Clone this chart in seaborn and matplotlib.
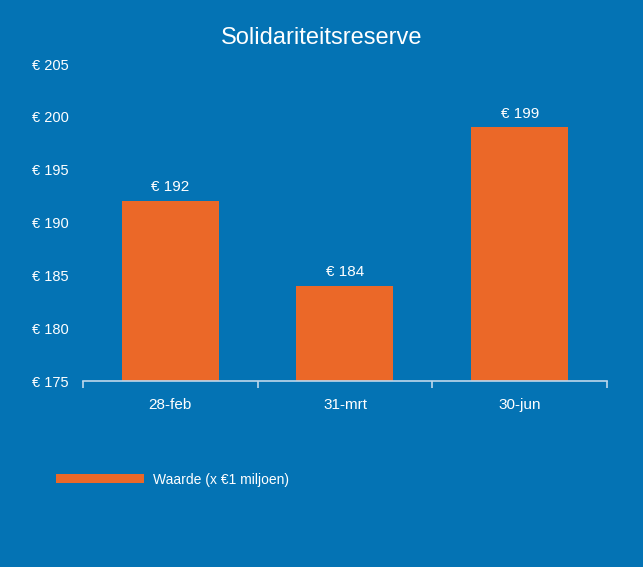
import matplotlib
matplotlib.use("Agg")
import matplotlib.pyplot as plt
import seaborn as sns
import pandas as pd
from matplotlib.patches import Patch
from matplotlib.ticker import FuncFormatter, FixedLocator

categories = ["28-feb", "31-mrt", "30-jun"]
values = [192, 184, 199]
series_name = "Waarde (x €1 miljoen)"
title = "Solidariteitsreserve"

BG = "#0473B4"
BAR = "#EB6828"
AX = "#BDD7EC"

sns.set_theme(style="white")
plt.rcParams['font.family'] = ['Liberation Sans', 'DejaVu Sans']

df = pd.DataFrame({"cat": categories, "val": values})

fig = plt.figure(figsize=(6.43, 5.67), dpi=100, facecolor=BG)
ax = fig.add_axes([0.129, 0.328, 0.815, 0.559])
ax.set_facecolor(BG)

sns.barplot(data=df, x="cat", y="val", color=BAR, width=0.555, saturation=1,
            linewidth=0, edgecolor="none", ax=ax)
ax.set_ylim(175, 205)
ax.set_xlim(-0.5, len(categories) - 0.5)
ax.set_yticks(range(175, 206, 5))
ax.yaxis.set_major_formatter(FuncFormatter(lambda v, p: f"€ {int(v)}"))
ax.set_xlabel("")
ax.set_ylabel("")

for s in ["top", "right", "left"]:
    ax.spines[s].set_visible(False)
ax.spines["bottom"].set_color(AX)
ax.spines["bottom"].set_linewidth(1.2)

ax.tick_params(axis="y", length=0, pad=10, labelsize=10.5, labelcolor="white")
ax.tick_params(axis="x", which="major", length=0, pad=12.5, labelsize=11, labelcolor="white")
ax.xaxis.set_minor_locator(FixedLocator([-0.5, 0.5, 1.5, 2.5]))
ax.tick_params(axis="x", which="minor", bottom=True, length=5, width=1.2, color=AX, direction="out")

for i, v in enumerate(values):
    ax.annotate(f"€ {v}", (i, v), xytext=(0, 5), textcoords="offset points",
                ha="center", va="bottom", color="white", fontsize=11)

fig.text(0.5, 0.933, title, ha="center", va="center", color="white", fontsize=17)

leg = fig.legend(handles=[Patch(facecolor=BAR, edgecolor="none", label=series_name)],
                 loc="center left", bbox_to_anchor=(0.068, 0.154), frameon=False,
                 handlelength=6.3, handleheight=0.6, handletextpad=0.7, fontsize=10)
for t in leg.get_texts():
    t.set_color("white")

fig.savefig("out.png", dpi=100, facecolor=BG)
